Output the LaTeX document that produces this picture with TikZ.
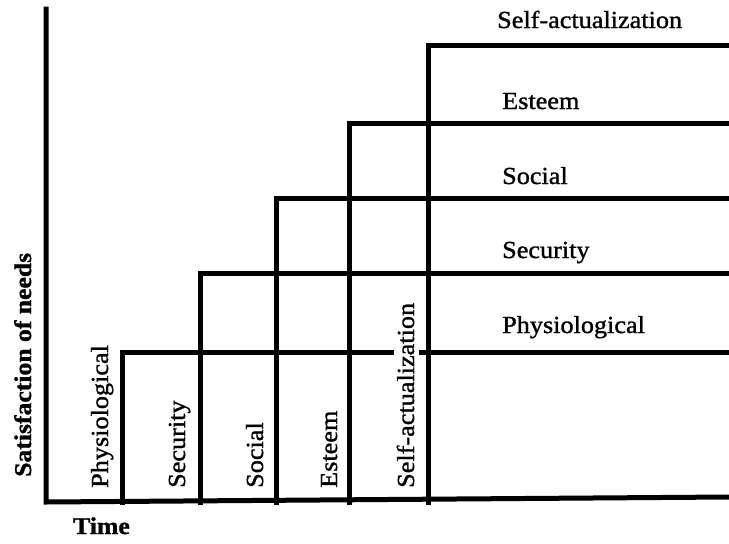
\documentclass[tikz,border=0pt]{standalone}
\usepackage{fontspec}
\setmainfont{Liberation Serif}[FakeStretch=1.07,FakeBold=1.2]
\begin{document}
\begin{tikzpicture}[x=1pt,y=-1pt,
  bar/.style={line width=5pt, line cap=rect, line join=miter},
  hlabel/.style={anchor=base west, inner sep=0pt, font=\fontsize{24.5}{28}\selectfont},
  vlabel/.style={rotate=90, anchor=base west, inner sep=0pt, font=\fontsize{24.5}{28}\selectfont},
  blabel/.style={inner sep=0pt, font=\fontsize{24}{28}\selectfont\bfseries}]
\useasboundingbox (0,0) rectangle (729,544);
% axes
\draw[bar] (46,9) -- (46,502) -- (729,497);
% steps
\draw[bar] (122,502) -- (122,352) -- (391,352);
\draw[bar] (421,352) -- (729,352);
\draw[bar] (200,502) -- (200,273) -- (729,273);
\draw[bar] (276,502) -- (276,198) -- (729,198);
\draw[bar] (349,502) -- (349,123) -- (729,123);
\draw[bar] (428,502) -- (428,45) -- (729,45);
% right labels
\node[hlabel] (hself) at (497,28) {Self-actualization};
\node[hlabel] (hest) at (502,109) {Esteem};
\node[hlabel] (hsoc) at (502,184) {Social};
\node[hlabel] (hsec) at (502,258) {Security};
\node[hlabel] (hphy) at (502,333) {Physiological};
% vertical labels
\node[vlabel] (vphy) at (108,488) {Physiological};
\node[vlabel] (vsec) at (185,488) {Security};
\node[vlabel] (vsoc) at (263,488) {Social};
\node[vlabel] (vest) at (337,488) {Esteem};
\node[vlabel] (vself) at (414,488) {Self-actualization};
% axis titles
\node[blabel, rotate=90, anchor=base west] (ylab) at (31,477) {Satisfaction of needs};
\node[blabel, anchor=base west] (xlab) at (73,534) {Time};
\end{tikzpicture}
\end{document}
